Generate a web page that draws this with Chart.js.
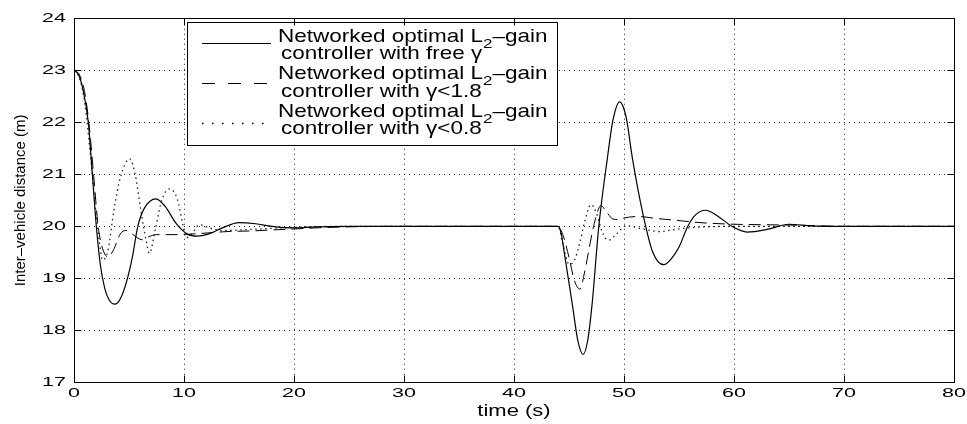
<!DOCTYPE html>
<html><head><meta charset="utf-8">
<script src="https://cdn.jsdelivr.net/npm/chart.js@4.4.1/dist/chart.umd.min.js"></script>
<style>html,body{margin:0;padding:0;background:#fff;}canvas{display:block;}</style>
</head><body>
<canvas id="c" width="967" height="424"></canvas>
<script>
// ---- data ----
const tSolid = [0,0.4,0.8,1.3,1.67,2.03,2.4,2.8,3.2,3.7,4.2,4.8,5.3,5.8,6.4,7.45,8.3,9.3,10.3,11.2,12.2,13.5,15,16.5,18,20,22,25,30,35,40,44,
  44.3,44.6,45.3,45.8,46.27,46.7,47.1,47.7,48.5,49.0,49.6,50.2,50.75,51.7,52.6,53.6,54.4,55,55.8,56.5,57.4,58.5,59.8,61.2,63,65,67,70,75,80];
const ySolid = [23,22.93,22.65,22.0,21.0,20.0,19.25,18.8,18.58,18.5,18.6,18.95,19.4,20.0,20.35,20.53,20.38,20.05,19.85,19.81,19.85,19.97,20.07,20.05,20.0,19.97,19.99,20,20,20,20,20,
  19.85,19.45,18.5,17.8,17.53,17.8,18.5,19.98,21.33,22.05,22.40,22.1,21.33,20.26,19.51,19.26,19.4,19.6,20.0,20.22,20.31,20.2,20.0,19.89,19.94,20.04,20.01,20,20,20];

const tDash = [0,0.5,1,1.4,1.8,2.2,2.6,3.1,3.6,4.2,4.7,5.3,6.2,6.8,7.5,9,10.5,12,14,16,18,20,22,25,30,44,
  44.5,45,45.5,46,46.4,47,47.4,47.9,48.4,49,49.5,50,51.2,53,55,57,60,63,66,70,80];
const yDash = [23,22.92,22.55,21.9,20.95,20.0,19.57,19.41,19.55,19.85,19.92,19.85,19.74,19.8,19.84,19.84,19.85,19.87,19.9,19.91,19.93,19.95,19.97,19.99,20,20,
  19.8,19.4,18.95,18.79,19.1,19.76,20.14,20.40,20.28,20.14,20.13,20.16,20.19,20.15,20.11,20.07,20.04,20.03,20.02,20.0,20];

const tDot = [0,0.5,1,1.5,2,2.3,2.6,3.1,3.64,4.24,5.06,5.6,6.06,6.58,6.85,7.4,8.0,8.7,9.4,9.85,10.2,10.7,11.4,12.3,13.5,15,17,20,25,44,
  44.5,45,45.5,46,46.5,47,47.5,48,48.6,49.3,50.2,51.5,53.2,55,56.5,60,80];
const yDot = [23,22.85,22.35,21.35,20.25,19.7,19.35,19.55,20.33,20.96,21.3,20.96,20.33,19.7,19.48,19.95,20.52,20.72,20.52,20.08,19.78,19.85,20.03,19.97,19.92,19.93,19.95,19.98,20,20,
  19.6,19.27,19.35,19.7,20.15,20.42,20.25,19.9,19.73,19.85,20.01,19.96,19.9,19.95,19.98,20,20];

const xTickValues = [0,10,20,30,40,50,60,70,80];
const yTickValues = [17,18,19,20,21,22,23,24];

const legendEntries = [
  {first: ["Networked optimal L", "2", "\u2013gain"], second: "controller with free \u03b3"},
  {first: ["Networked optimal L", "2", "\u2013gain"], second: "controller with \u03b3<1.8"},
  {first: ["Networked optimal L", "2", "\u2013gain"], second: "controller with \u03b3<0.8"}
];
const seriesLabels = ["Networked optimal L2-gain controller with free \u03b3",
  "Networked optimal L2-gain controller with \u03b3<1.8",
  "Networked optimal L2-gain controller with \u03b3<0.8"];

// ---- styling ----
const FAM = "'Liberation Sans', Arial, Helvetica, sans-serif";
function squashFor(font){
  const m = /([\d.]+)px/.exec(font||'');
  if(!m) return 1;
  const s = parseFloat(m[1]);
  if (Math.abs(s-21.5) < 0.01) return 0.6;
  if (s >= 16.5 && s <= 23) return 0.78;
  return 1;
}
const squashPlugin = {
  id: 'squash',
  beforeInit(chart){
    const ctx = chart.ctx;
    const orig = CanvasRenderingContext2D.prototype.fillText;
    ctx.fillText = function(){
      const k = squashFor(this.font);
      const m = this.getTransform();
      if (k === 1 || Math.abs(m.b) > 1e-6 || Math.abs(m.c) > 1e-6) return orig.apply(this, arguments);
      const x = arguments[1], y = arguments[2];
      const py = m.b*x + m.d*y + m.f;
      this.save();
      this.setTransform(1,0,0,k,0,py*(1-k));
      this.transform(m.a,m.b,m.c,m.d,m.e,m.f);
      orig.apply(this, arguments);
      this.restore();
    };
  }
};
function alignPx(p){ return Math.round(p-0.5)+0.5; }
const framePlugin = {
  id: 'frame',
  afterDraw(chart){
    const ctx = chart.ctx, a = chart.chartArea, xs = chart.scales.x, ys = chart.scales.y;
    const L = alignPx(a.left), R = alignPx(a.right), T = alignPx(a.top), B = alignPx(a.bottom);
    ctx.save();
    ctx.setLineDash([]);
    ctx.strokeStyle = '#000'; ctx.lineWidth = 1;
    ctx.strokeRect(L, T, R-L, B-T);
    ctx.beginPath();
    const TL = 7;
    xTickValues.forEach(v=>{ const p = alignPx(xs.getPixelForValue(v));
      ctx.moveTo(p,B); ctx.lineTo(p,B-TL); ctx.moveTo(p,T); ctx.lineTo(p,T+TL); });
    yTickValues.forEach(v=>{ const p = alignPx(ys.getPixelForValue(v));
      ctx.moveTo(L,p); ctx.lineTo(L+TL,p); ctx.moveTo(R,p); ctx.lineTo(R-TL,p); });
    ctx.stroke();
    ctx.restore();
  }
};
const legendPlugin = {
  id: 'customLegend',
  afterDatasetsDraw(chart){
    const ctx = chart.ctx;
    const bx = 187.5, by = 22.5, bw = 370, bh = 123;
    ctx.save();
    ctx.fillStyle = '#fff'; ctx.fillRect(bx,by,bw,bh);
    ctx.strokeStyle = '#000'; ctx.lineWidth = 1; ctx.setLineDash([]);
    ctx.strokeRect(bx,by,bw,bh);
    const sampleY = [43.5, 83.5, 123.5];
    const dashes = [[], [13,13], [1.5,8.5]];
    const widths = [1.2, 1, 1.5];
    chart.data.datasets.forEach((ds,i)=>{
      ctx.beginPath(); ctx.setLineDash(dashes[i]); ctx.lineWidth = widths[i];
      ctx.strokeStyle = '#000';
      ctx.moveTo(202, sampleY[i]); ctx.lineTo(271, sampleY[i]); ctx.stroke();
    });
    ctx.setLineDash([]);
    ctx.fillStyle = '#000'; ctx.textAlign = 'left'; ctx.textBaseline = 'alphabetic';
    const base = [41.7, 59, 79.3, 96.7, 117, 134.3];
    legendEntries.forEach((e,i)=>{
      let x = 278; const b1 = base[2*i], b2 = base[2*i+1];
      ctx.font = '22.5px ' + FAM;
      ctx.fillText(e.first[0], x, b1); x += ctx.measureText(e.first[0]).width;
      ctx.font = '17px ' + FAM;
      ctx.fillText(e.first[1], x, b1+6); x += ctx.measureText(e.first[1]).width;
      ctx.font = '22.5px ' + FAM;
      ctx.fillText(e.first[2], x, b1);
      ctx.fillText(e.second, 281, b2);
    });
    ctx.restore();
  }
};

const toXY = (t,y) => t.map((v,i)=>({x:v, y:y[i]}));
new Chart(document.getElementById('c'), {
  type: 'line',
  data: { datasets: [
    {label: seriesLabels[0], data: toXY(tSolid,ySolid), borderColor:'#000', borderWidth:1.2, pointRadius:0, cubicInterpolationMode:'monotone', fill:false},
    {label: seriesLabels[1], data: toXY(tDash,yDash), borderColor:'#000', borderWidth:1, borderDash:[12,6], pointRadius:0, cubicInterpolationMode:'monotone', fill:false},
    {label: seriesLabels[2], data: toXY(tDot,yDot), borderColor:'#222', borderWidth:1.3, borderDash:[1.5,3.5], pointRadius:0, cubicInterpolationMode:'monotone', fill:false}
  ]},
  options: {
    responsive: false, animation: false, devicePixelRatio: 1,
    layout: {padding: {left:0, right:13, top:12, bottom:0}},
    plugins: {legend: {display:false}, tooltip: {enabled:false}},
    scales: {
      x: {
        type: 'linear', min: 0, max: 80,
        afterFit: s => { s.height = 42; },
        afterBuildTicks: s => { s.ticks = xTickValues.map(v=>({value:v})); },
        ticks: {font:{family:FAM, size:21.5, lineHeight:1}, color:'#000', padding:1, maxRotation:0, autoSkip:false},
        grid: {color:'#222', lineWidth:1, drawTicks:false},
        border: {display:false, dash:[1,4]},
        title: {display:true, text:'time (s)', color:'#000', font:{family:FAM, size:22, lineHeight:1.2}, padding:{top:0,bottom:0}}
      },
      y: {
        min: 17, max: 24,
        afterFit: s => { s.width = 74; },
        afterBuildTicks: s => { s.ticks = yTickValues.map(v=>({value:v})); },
        ticks: {font:{family:FAM, size:21.5, lineHeight:1}, color:'#000', padding:8},
        grid: {color:'#222', lineWidth:1, drawTicks:false},
        border: {display:false, dash:[1,4]},
        title: {display:true, text:'Inter\u2013vehicle distance (m)', color:'#000', font:{family:FAM, size:15, lineHeight:1.2}, padding:{top:12,bottom:0}}
      }
    }
  },
  plugins: [squashPlugin, legendPlugin, framePlugin]
});
</script>
</body></html>
